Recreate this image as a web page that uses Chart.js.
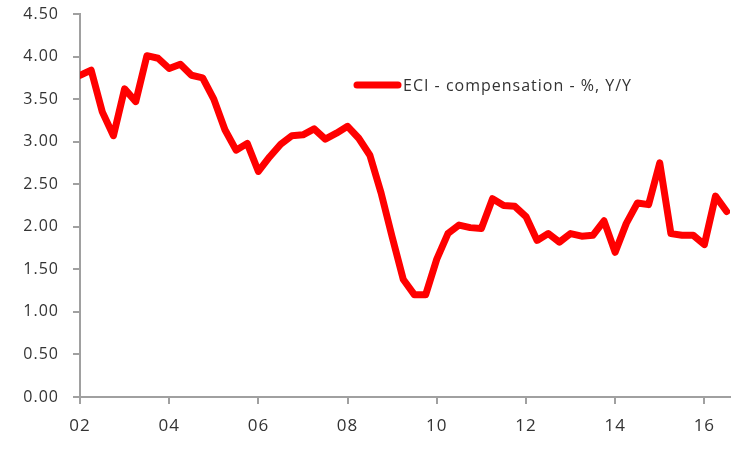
<!DOCTYPE html>
<html>
<head>
<meta charset="utf-8">
<script src="https://cdn.jsdelivr.net/npm/chart.js@4.4.1/dist/chart.umd.min.js"></script>
<style>
html,body{margin:0;padding:0;background:#fff;}
#wrap{width:752px;height:450px;position:relative;}
</style>
</head>
<body>
<div id="wrap"><canvas id="c" width="752" height="450"></canvas></div>
<script>
// Quarterly, 2002 Q1 .. 2016 Q3
const seriesLabel = "ECI - compensation - %, Y/Y";
const eciValues = [
  3.78, 3.84, 3.35, 3.07, 3.62, 3.47, 4.01, 3.98,
  3.86, 3.91, 3.78, 3.75, 3.50, 3.14, 2.90, 2.98,
  2.65, 2.82, 2.97, 3.07, 3.08, 3.15, 3.03, 3.10,
  3.18, 3.04, 2.84, 2.40, 1.88, 1.38, 1.20, 1.20,
  1.62, 1.92, 2.02, 1.99, 1.98, 2.33, 2.25, 2.24,
  2.12, 1.84, 1.92, 1.82, 1.92, 1.89, 1.90, 2.07,
  1.70, 2.04, 2.28, 2.26, 2.75, 1.92, 1.90, 1.90,
  1.79, 2.36, 2.18
];
const yearTickLabels = ["02", "04", "06", "08", "10", "12", "14", "16"];
const quartersPerTick = 8;

const points = eciValues.map((v, i) => ({x: i, y: v}));

const spacingPlugin = {
  id: 'letterSpacing',
  beforeInit(chart) { chart.ctx.letterSpacing = '1px'; },
  beforeUpdate(chart) { chart.ctx.letterSpacing = '1px'; },
  beforeDraw(chart) { chart.ctx.letterSpacing = '1px'; }
};

const legendPlugin = {
  id: 'customLegend',
  afterDraw(chart) {
    const ctx = chart.ctx;
    const ds = chart.data.datasets[0];
    ctx.save();
    ctx.strokeStyle = ds.borderColor;
    ctx.lineWidth = 7;
    ctx.lineCap = 'round';
    ctx.beginPath();
    ctx.moveTo(357, 85);
    ctx.lineTo(398, 85);
    ctx.stroke();
    ctx.fillStyle = '#333';
    ctx.letterSpacing = '1px';
    ctx.font = '16px "Open Sans", "Liberation Sans", sans-serif';
    ctx.textBaseline = 'middle';
    ctx.fillText(ds.label, 403, 86);
    ctx.restore();
  }
};

new Chart(document.getElementById('c'), {
  type: 'line',
  data: {
    datasets: [{
      label: seriesLabel,
      data: points,
      borderColor: '#ff0000',
      borderWidth: 7,
      pointRadius: 0,
      tension: 0,
      borderJoinStyle: 'round',
      borderCapStyle: 'round'
    }]
  },
  plugins: [spacingPlugin, legendPlugin],
  options: {
    responsive: false,
    animation: false,
    devicePixelRatio: 1,
    layout: { padding: { top: 14, right: 22, bottom: 0, left: 0 } },
    plugins: { legend: { display: false }, tooltip: { enabled: false } },
    scales: {
      x: {
        type: 'linear',
        min: 0,
        max: 58.3,
        afterFit(scale) { scale.height = 53; },
        afterBuildTicks(scale) {
          scale.ticks = yearTickLabels.map((t, i) => ({ value: i * quartersPerTick }));
        },
        border: { display: true, color: '#a0a0a0', width: 2 },
        grid: { display: true, drawOnChartArea: false, drawTicks: true, tickLength: 7, color: '#a0a0a0', lineWidth: 2 },
        ticks: {
          autoSkip: false,
          maxRotation: 0,
          padding: 12,
          color: '#333',
          font: { family: '"Open Sans", "Liberation Sans", sans-serif', size: 17 },
          callback(value) {
            const idx = Math.round(value / quartersPerTick);
            return yearTickLabels[idx] !== undefined ? yearTickLabels[idx] : '';
          }
        }
      },
      y: {
        min: 0,
        max: 4.5,
        afterFit(scale) { scale.width = 80; scale.paddingTop = 0; scale.paddingBottom = 0; },
        border: { display: true, color: '#a0a0a0', width: 2 },
        grid: { display: true, drawOnChartArea: false, drawTicks: true, tickLength: 7, color: '#a0a0a0', lineWidth: 2 },
        ticks: {
          stepSize: 0.5,
          padding: 14,
          color: '#333',
          font: { family: '"Open Sans", "Liberation Sans", sans-serif', size: 16 },
          callback(value) { return value.toFixed(2); }
        }
      }
    }
  }
});
</script>
</body>
</html>
